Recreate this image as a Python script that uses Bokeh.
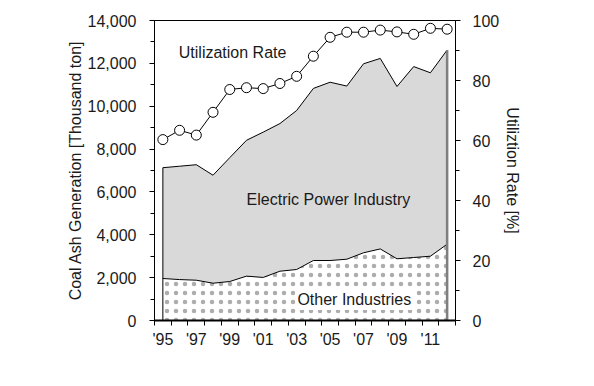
from bokeh.plotting import figure
from bokeh.models import (Range1d, LinearAxis, FixedTicker, SingleIntervalTicker,
                          NumeralTickFormatter, Label, ColumnDataSource)
from bokeh.embed import file_html
from bokeh.resources import INLINE

years = list(range(1995, 2013))
total_ash = [7130, 7200, 7270, 6780, 7600, 8410, 8790, 9190, 9800, 10830,
             11120, 10940, 11980, 12230, 10920, 11850, 11560, 12620]
other_ind = [1960, 1910, 1880, 1740, 1820, 2070, 2010, 2300, 2380, 2800,
             2800, 2860, 3160, 3340, 2880, 2940, 3000, 3560]
util_rate = [60.3, 63.4, 61.8, 69.4, 77.0, 77.6, 77.3, 79.0, 81.4, 88.1,
             94.4, 96.1, 96.1, 96.8, 96.2, 95.4, 97.4, 97.1]
tick_years = [1995, 1997, 1999, 2001, 2003, 2005, 2007, 2009, 2011]
tick_labels = ["'95", "'97", "'99", "'01", "'03", "'05", "'07", "'09", "'11"]

FONT = "Liberation Sans"
TXT = "#1a1a1a"

src = ColumnDataSource(dict(year=years, total=total_ash, other=other_ind,
                            util=util_rate, zero=[0] * len(years)))

p = figure(frame_width=301, frame_height=300, output_backend="svg",
           toolbar_location=None, x_range=Range1d(1994.5, 2012.5),
           y_range=Range1d(0, 14000),
           min_border_left=154, min_border_right=115, min_border_top=20,
           min_border_bottom=45)
p.extra_y_ranges = {"pct": Range1d(0, 100)}
p.grid.visible = False
p.outline_line_color = "black"
p.outline_line_width = 1
p.background_fill_color = "white"

# areas
p.varea(x="year", y1="zero", y2="total", source=src, fill_color="#d9d9d9")
p.varea(x="year", y1="zero", y2="other", source=src, fill_color="white",
        hatch_pattern="dot", hatch_color="black", hatch_alpha=0.32,
        hatch_scale=9, hatch_weight=0.3)
p.line(x="year", y="total", source=src, line_color="black", line_width=1)
p.line(x="year", y="other", source=src, line_color="black", line_width=1)
p.segment(x0=years[0], y0=0, x1=years[0], y1=total_ash[0], line_color="black", line_width=1)
p.segment(x0=years[-1], y0=0, x1=years[-1], y1=total_ash[-1], line_color="#7f7f7f", line_width=2.5)

# utilization
p.line(x="year", y="util", source=src, y_range_name="pct", line_color="black", line_width=1)
p.scatter(x="year", y="util", source=src, y_range_name="pct", size=10,
          fill_color="white", line_color="black", line_width=1)

# x axis
xa = p.xaxis[0]
xa.ticker = FixedTicker(ticks=tick_years,
                        minor_ticks=[y - 0.5 for y in years] + [years[-1] + 0.5])
xa.major_label_overrides = {y: l for y, l in zip(tick_years, tick_labels)}
xa.major_tick_line_color = None
xa.minor_tick_in = 0
xa.minor_tick_out = 5
xa.minor_tick_line_color = "black"
xa.axis_line_color = "black"
xa.axis_line_width = 2
xa.major_label_text_font = FONT
xa.major_label_text_font_size = "16px"
xa.major_label_text_color = TXT
xa.major_label_standoff = 4

# left axis
ya = p.yaxis[0]
ya.ticker = SingleIntervalTicker(interval=2000, num_minor_ticks=2)
ya.formatter = NumeralTickFormatter(format="0,0")
ya.axis_label = "Coal Ash Generation [Thousand ton]"

# right axis
ra = LinearAxis(y_range_name="pct", axis_label="Utiliztion Rate [%]")
ra.ticker = SingleIntervalTicker(interval=20, num_minor_ticks=2)
p.add_layout(ra, "right")

for ax in (ya, ra):
    ax.major_tick_in = 0
    ax.major_tick_out = 5
    ax.minor_tick_in = 0
    ax.minor_tick_out = 4
    ax.axis_line_color = "black"
    ax.major_tick_line_color = "black"
    ax.minor_tick_line_color = "black"
    ax.major_label_text_font = FONT
    ax.major_label_text_font_size = "16px"
    ax.major_label_text_color = TXT
    ax.axis_label_text_font = FONT
    ax.axis_label_text_font_size = "16px"
    ax.axis_label_text_font_style = "normal"
    ax.axis_label_text_color = TXT
ya.major_label_standoff = 13
ya.axis_label_standoff = 1
ra.major_label_standoff = 12
ra.axis_label_standoff = 2

for txt, x, y, bg in [("Utilization Rate", 1999.17, 12500, None),
                      ("Electric Power Industry", 2004.9, 5650, None),
                      ("Other Industries", 2006.45, 980, "white")]:
    p.add_layout(Label(x=x, y=y, text=txt, text_align="center", text_baseline="middle",
                       text_font=FONT, text_font_size="16px", text_color=TXT,
                       background_fill_color=bg, padding=2))

open("out.html", "w").write(file_html(p, INLINE))
